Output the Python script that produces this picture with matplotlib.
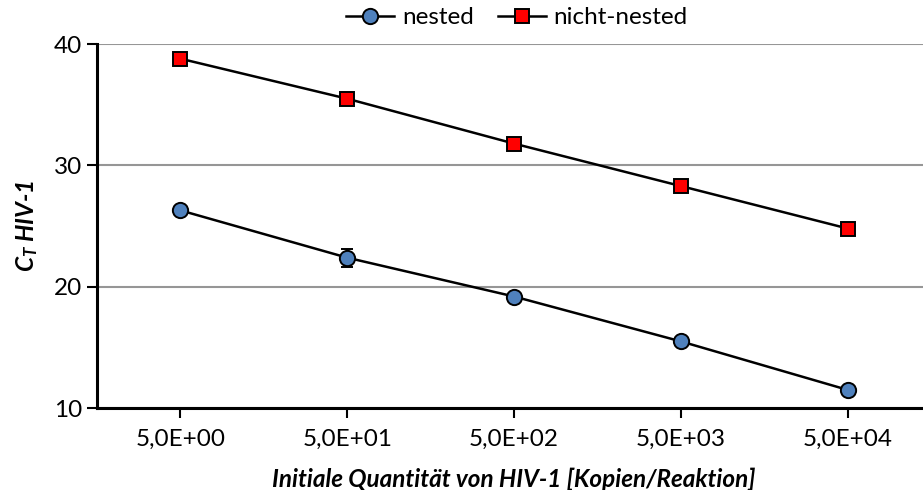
import matplotlib.pyplot as plt

plt.rcParams['font.family'] = ['Lato', 'DejaVu Sans']
plt.rcParams['mathtext.fontset'] = 'custom'
plt.rcParams['mathtext.it'] = 'Lato:italic:bold'
plt.rcParams['mathtext.rm'] = 'Lato:bold'

labels = ["5,0E+00", "5,0E+01", "5,0E+02", "5,0E+03", "5,0E+04"]
nested = [26.3, 22.4, 19.2, 15.5, 11.5]
nested_err = [0.0, 0.75, 0.0, 0.0, 0.0]
nicht_nested = [38.8, 35.5, 31.8, 28.3, 24.8]

fig = plt.figure(figsize=(9.23, 4.9), dpi=100)
ax = fig.add_axes([0.105, 0.167, 0.904, 0.743])

x = list(range(len(labels)))
ax.errorbar(x, nested, yerr=nested_err, fmt='none', ecolor='black',
            capsize=4.5, elinewidth=1.4, capthick=1.4, zorder=2)
ax.plot(x, nested, color='black', lw=1.8, marker='o', ms=11,
        mfc='#4f81bd', mec='black', mew=1.4, label='nested', zorder=3)
ax.plot(x, nicht_nested, color='black', lw=1.8, marker='s', ms=10.5,
        mfc='#ff0000', mec='black', mew=1.4, label='nicht-nested', zorder=3)

ax.set_xlim(-0.5, 4.5)
ax.set_ylim(10, 40)
ax.set_yticks([10, 20, 30, 40])
ax.set_xticks(x)
ax.set_xticklabels(labels)
ax.yaxis.grid(True, color='#969696', lw=1.5)
ax.set_axisbelow(True)

for s in ['top', 'right']:
    ax.spines[s].set_visible(False)
for s in ['left', 'bottom']:
    ax.spines[s].set_linewidth(2.2)
ax.tick_params(axis='both', direction='out', length=7, width=1.5,
               labelsize=17.5)
ax.tick_params(axis='x', pad=8)

ax.set_xlabel('Initiale Quantität von HIV-1 [Kopien/Reaktion]',
              fontsize=17.5, fontweight='bold', style='italic', labelpad=13)
ax.set_ylabel(r'$C_T$ HIV-1', fontsize=17.5, fontweight='bold',
              style='italic', labelpad=10)

handles, lbls = ax.get_legend_handles_labels()
fig.legend(handles, lbls, loc='upper center', bbox_to_anchor=(0.56, 1.03),
           ncol=2, frameon=False, fontsize=17.5, handlelength=2.0,
           columnspacing=1.0, handletextpad=0.3)

fig.savefig('out.png', dpi=100)
